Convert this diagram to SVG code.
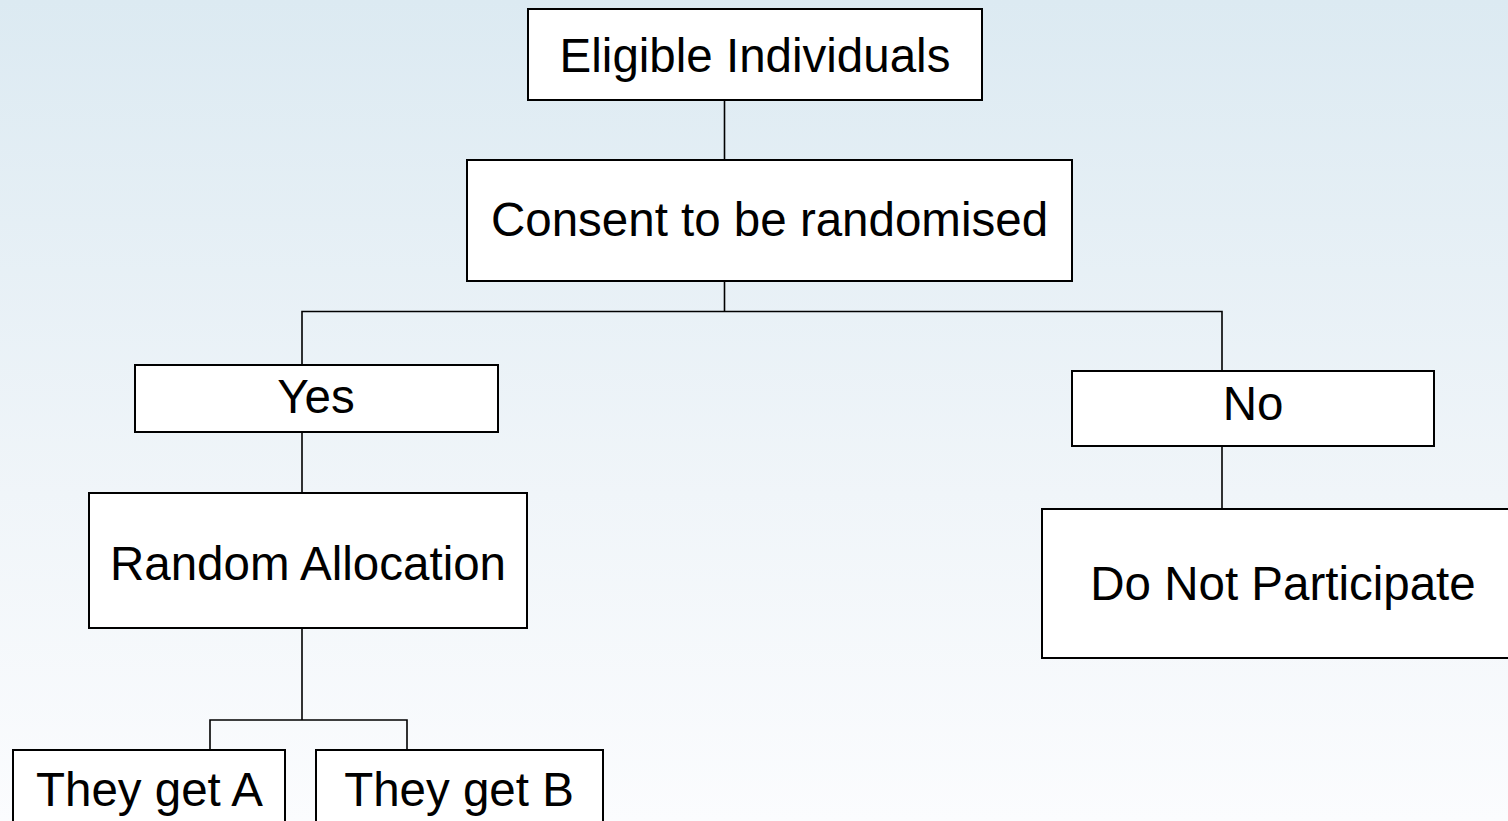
<svg xmlns="http://www.w3.org/2000/svg" width="1508" height="821" viewBox="0 0 1508 821">
<defs>
<linearGradient id="bg" x1="0" y1="0" x2="0" y2="1">
<stop offset="0" stop-color="#dceaf2"/>
<stop offset="0.6" stop-color="#f0f5f9"/>
<stop offset="1" stop-color="#fbfcfe"/>
</linearGradient>
</defs>
<style>
.box{fill:#ffffff;stroke:#000000;stroke-width:2}
.lbl{font-family:"Liberation Sans",Arial,sans-serif;font-size:47.5px;fill:#000000;text-anchor:middle}
.conn{fill:none;stroke:#000000;stroke-width:1.6}
</style>
<rect x="0" y="0" width="1508" height="821" fill="url(#bg)"/>
<g id="connectors">
<path class="conn" d="M724.5,100 V160"/>
<path class="conn" d="M724.5,281 V311.5"/>
<path class="conn" d="M302,365 V311.5 H1222 V371"/>
<path class="conn" d="M302,432 V493"/>
<path class="conn" d="M1222,446 V509"/>
<path class="conn" d="M302,628 V720"/>
<path class="conn" d="M210,750 V720 H407 V750"/>
</g>
<g id="node-eligible">
<rect class="box" x="528" y="9" width="454" height="91"/>
<text class="lbl" x="755" y="72">Eligible Individuals</text>
</g>
<g id="node-consent">
<rect class="box" x="467" y="160" width="605" height="121"/>
<text class="lbl" x="769.5" y="236">Consent to be randomised</text>
</g>
<g id="node-yes">
<rect class="box" x="135" y="365" width="363" height="67"/>
<text class="lbl" x="316" y="413">Yes</text>
</g>
<g id="node-no">
<rect class="box" x="1072" y="371" width="362" height="75"/>
<text class="lbl" x="1253" y="420">No</text>
</g>
<g id="node-random">
<rect class="box" x="89" y="493" width="438" height="135"/>
<text class="lbl" x="308" y="580">Random Allocation</text>
</g>
<g id="node-donot">
<rect class="box" x="1042" y="509" width="482" height="149"/>
<text class="lbl" x="1283" y="600">Do Not Participate</text>
</g>
<g id="node-a">
<rect class="box" x="13" y="750" width="272" height="80"/>
<text class="lbl" x="149.5" y="806">They get A</text>
</g>
<g id="node-b">
<rect class="box" x="316" y="750" width="287" height="80"/>
<text class="lbl" x="459" y="806">They get B</text>
</g>
</svg>
